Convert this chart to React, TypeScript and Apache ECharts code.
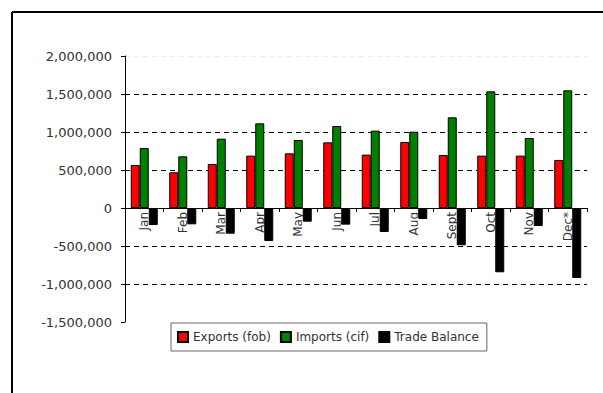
import React, { useEffect, useRef } from "react";
import * as echarts from "echarts";

const months = ["Jan", "Feb", "Mar", "Apr", "May", "Jun", "Jul", "Aug", "Sept", "Oct", "Nov", "Dec*"];
const exportsFob = [566000, 470000, 579000, 689000, 719000, 864000, 702000, 868000, 697000, 689000, 689000, 632000];
const importsCif = [789000, 680000, 912000, 1114000, 895000, 1079000, 1018000, 1004000, 1193000, 1535000, 921000, 1548000];
const tradeBalance = [-224000, -215000, -338000, -434000, -180000, -219000, -316000, -145000, -491000, -846000, -237000, -921000];
const seriesNames = ["Exports (fob)", "Imports (cif)", "Trade Balance"];
const seriesColors = ["#ff0000", "#008000", "#000000"];

const FONT = "DejaVu Sans";
const TEXT = "#333";

export default function App() {
  const ref = useRef<HTMLDivElement>(null);
  useEffect(() => {
    if (!ref.current) return;
    const chart = echarts.init(ref.current, undefined, { renderer: "svg" });
    const datas = [exportsFob, importsCif, tradeBalance];
    chart.setOption({
      animation: false,
      backgroundColor: "#fff",
      textStyle: { fontFamily: FONT },
      grid: { left: 125, right: 16, top: 56, bottom: 71, containLabel: false },
      legend: {
        left: 171,
        top: 323,
        orient: "horizontal",
        padding: [8, 8, 8, 6],
        borderColor: "#666",
        borderWidth: 1,
        itemWidth: 10,
        itemHeight: 10,
        itemGap: 9,
        icon: "rect",
        textStyle: { fontFamily: FONT, fontSize: 12, color: TEXT },
        data: seriesNames,
      },
      xAxis: {
        type: "category",
        data: months,
        offset: -114,
        axisLine: { onZero: false, lineStyle: { color: "#000", width: 1 } },
        axisTick: { show: true, inside: false, length: 4, lineStyle: { color: "#000" } },
        axisLabel: { rotate: 90, margin: 4, fontFamily: FONT, fontSize: 12, color: TEXT },
        splitLine: { show: false },
      },
      yAxis: {
        type: "value",
        min: -1500000,
        max: 2000000,
        interval: 500000,
        axisLine: { show: true, lineStyle: { color: "#000", width: 1 } },
        axisTick: { show: true, length: 4, lineStyle: { color: "#000" } },
        axisLabel: {
          margin: 13,
          fontFamily: FONT,
          fontSize: 13,
          color: TEXT,
          formatter: (v: number) => v.toLocaleString("en-US"),
        },
        splitLine: {
          show: true,
          lineStyle: {
            type: [5, 4],
            width: 1,
            color: ["rgba(0,0,0,0)", "#000", "#000", "#000", "#000", "#000", "#000", "#eeeeee"],
          },
        },
      },
      graphic: [
        { type: "line", shape: { x1: 12, y1: 12, x2: 603, y2: 12 }, style: { stroke: "#000", lineWidth: 2 } },
        { type: "line", shape: { x1: 12, y1: 12, x2: 12, y2: 393 }, style: { stroke: "#000", lineWidth: 2 } },
      ],
      series: seriesNames.map((name, i) => ({
        name,
        type: "bar",
        data: datas[i],
        barWidth: 9,
        barGap: "0%",
        itemStyle: { color: seriesColors[i], borderColor: "#000", borderWidth: 1 },
      })),
    });
    return () => chart.dispose();
  }, []);
  return (
    <div
      ref={ref}
      style={{ position: "fixed", left: 0, top: 0, width: 603, height: 393, background: "#fff" }}
    />
  );
}
